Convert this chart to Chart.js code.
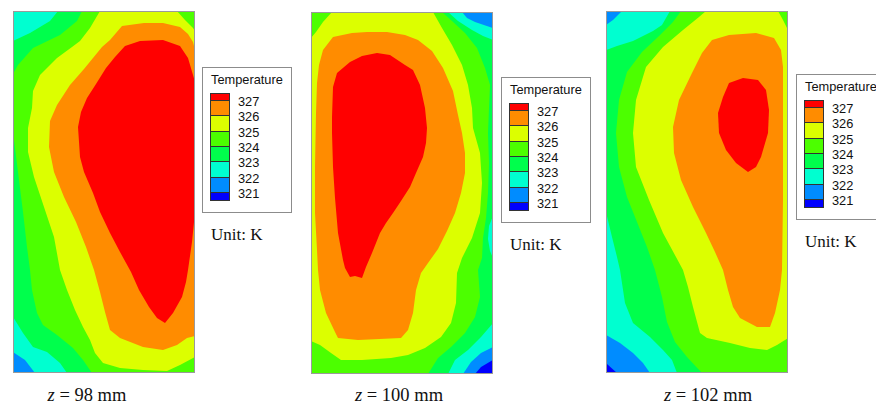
<!DOCTYPE html>
<html>
<head>
<meta charset="utf-8">
<script src="https://cdn.jsdelivr.net/npm/chart.js@4.4.0/dist/chart.umd.min.js"></script>
<style>
  body { margin: 0; background: #fff; width: 876px; height: 404px; overflow: hidden; position: relative;
         font-family: "Liberation Sans", Arial, sans-serif; }
  .panel { position: absolute; border: 1px solid #9a9a9a; width: 180px; height: 360px; }
  .panel canvas { display: block; }
  .legend { position: absolute; width: 88px; height: 144px; border: 1px solid #8c8c8c; background: #fff; }
  .legend .title { position: absolute; left: 8px; top: 5px; font-size: 12.8px; line-height: 14px; color: #111; white-space: nowrap; }
  .swatch { position: absolute; left: 7px; width: 20px; box-sizing: border-box; border: 1px solid #333; }
  .lab { position: absolute; left: 35px; font-size: 12.8px; line-height: 14px; color: #111; }
  .unit { position: absolute; font-family: "Liberation Serif", "Times New Roman", serif; font-size: 17px; line-height: 18px; color: #111; white-space: nowrap; }
  .caption { position: absolute; font-family: "Liberation Serif", "Times New Roman", serif; font-size: 18.5px; line-height: 20px; color: #111; white-space: nowrap; transform: translateX(-50%); }
</style>
</head>
<body>
<script>
// Contour levels (K) shown in the legends
const LEVELS = [321, 322, 323, 324, 325, 326, 327];
// Band colours: below 321, 321-322, ... , above 327
const BAND_COLORS = ["#0000ff", "#008cff", "#00ffd0", "#00ff4c", "#4cff00", "#dcff00", "#ff8c00", "#ff0000"];
// Slice positions (mm)
const SLICES = ["98", "100", "102"];

// Section size in plot units
const X_MAX = 180;
const Y_MAX = 360;
const FULL = [-1, -1, X_MAX + 1, -1, X_MAX + 1, Y_MAX + 1, -1, Y_MAX + 1];

// ---- z = 98 mm : region outlines (x, y pairs, y measured from the top) ----
const z98Spring1 = [-1,-1, 68,-1, 63,9, 46,23, 19,36, 4,53, -1,62];
const z98Spring2 = [-1,120, 4,160, 9,200, 13,235, 16,258, 18,278, 23,301, 29,313, 43,323, 59,336, 69,348, 78,361, -1,361];
const z98Cyan1 = [-1,-1, 44,-1, 36,9, 16,21, 1,28, -1,29];
const z98Cyan2 = [-1,305, 9,321, 19,335, 33,340, 46,351, 53,361, -1,361];
const z98Azure = [-1,340, 11,348, 21,361, -1,361];
const z98Yellow = [86,-1, 163,-1, 171,8, 179,16, 181,19, 181,345, 166,353, 153,359, 129,358, 106,356, 89,351, 81,341,
  76,328, 69,315, 61,298, 53,278, 46,258, 40,225, 30,195, 20,165, 14,140, 14,116, 18,96, 19,79, 26,63, 43,46, 58,35, 66,29, 76,16];
const z98Orange = [88,35, 96,28, 108,14, 130,11, 149,11, 166,15, 174,22, 179,30, 181,38, 181,324, 173,326, 163,333, 149,338,
  129,335, 106,326, 96,318, 91,300, 86,280, 80,258, 72,235, 62,210, 50,185, 40,160, 35,135, 36,109, 43,93, 56,73, 70,57, 79,46];
const z98Red = [101,45, 111,34, 126,29, 149,28, 166,34, 174,46, 179,63, 181,70, 181,200, 178,230, 174,258, 172,270, 168,285,
  159,301, 151,311, 143,306, 135,295, 125,278, 117,260, 106,240, 96,221, 86,200, 79,181, 70,160, 66,145, 64,115, 67,100,
  73,86, 82,72, 92,56];

// ---- z = 100 mm ----
const z100Spring = [130,-1, 181,-1, 181,361, 116,361, 126,345, 139,334, 153,320, 163,304, 168,284, 166,257, 170,245, 171,225,
  174,205, 176,180, 177,150, 176,120, 177,95, 178,72, 173,55, 165,35, 153,20, 140,8];
const z100Cyan1 = [136,-1, 146,8, 160,17, 171,23, 181,27, 181,-1];
const z100Azure1 = [150,-1, 155,5, 163,9, 181,15, 181,-1];
const z100Cyan2 = [181,203, 177,213, 176,226, 178,238, 181,245];
const z100Cyan3 = [181,310, 169,324, 156,337, 143,347, 136,361, 181,361];
const z100Azure2 = [181,334, 169,340, 159,349, 151,361, 181,361];
const z100Blue = [181,347, 169,354, 163,361, 181,361];
const z100Yellow = [20,-1, 121,-1, 130,15, 140,32, 150,52, 156,72, 160,95, 161,115, 168,140, 170,170, 168,200, 160,225,
  150,245, 145,260, 144,290, 139,310, 129,324, 113,335, 96,342, 79,345, 50,347, 29,347, 19,340, 8,332, -1,328, -1,25, 4,19, 11,9];
const z100Orange = [11,37, 21,24, 40,20, 55,19, 75,19, 93,22, 106,27, 120,38, 131,55, 141,78, 146,102, 150,120, 153,140,
  153,160, 149,180, 143,200, 135,218, 126,236, 116,250, 109,260, 104,277, 101,300, 96,317, 89,325, 46,327, 26,325, 23,319,
  14,300, 8,277, 6,257, 5,237, 3,200, 3,154, 4,100, 5,70, 7,52];
const z100Red = [25,60, 38,49, 50,43, 65,40, 78,42, 93,52, 101,57, 108,72, 113,95, 115,115, 114,130, 111,144, 104,160, 98,174,
  89,188, 81,200, 74,210, 68,220, 60,240, 54,254, 50,265, 43,263, 38,264, 33,255, 31,247, 26,220, 23,185, 21,154, 20,120,
  20,104, 21,74];

// ---- z = 102 mm ----
const z102Cyan1 = [-1,-1, 63,-1, 55,13, 46,19, 26,29, 10,34, -1,38];
const z102Azure1 = [-1,-1, 15,-1, 6,8, -1,13];
const z102Cyan2 = [-1,200, 5,225, 10,245, 13,258, 18,291, 26,311, 43,325, 56,338, 65,348, 70,361, -1,361];
const z102Azure2 = [-1,323, 13,331, 26,341, 36,351, 43,361, -1,361];
const z102Blue = [-1,351, 10,361, -1,361];
const z102Green = [74,-1, 181,-1, 181,361, 95,361, 80,345, 68,330, 60,310, 55,285, 48,258, 40,235, 30,210, 20,185, 12,155,
  9,121, 12,88, 20,60, 35,40, 52,24, 66,10];
const z102Yellow = [99,-1, 171,-1, 176,8, 181,18, 181,326, 170,333, 160,338, 143,336, 123,331, 100,326, 93,321, 86,295,
  81,275, 76,258, 69,245, 56,221, 42,188, 29,155, 26,121, 29,88, 39,55, 56,35, 76,18, 92,5];
const z102Orange = [95,41, 105,28, 122,23, 149,21, 167,26, 174,38, 176,55, 176,121, 176,188, 175,258, 173,278, 168,301,
  163,315, 150,315, 133,306, 126,295, 121,278, 116,258, 108,240, 99,221, 86,195, 74,168, 67,141, 66,115, 72,88, 85,61];
const z102Red = [122,71, 136,66, 151,68, 159,78, 162,98, 161,121, 154,145, 149,155, 141,160, 129,151, 119,138, 112,121,
  111,101, 116,85];

// Paint order per slice: [band index, outline]
const z98Layers = [[4, FULL], [3, z98Spring1], [3, z98Spring2], [2, z98Cyan1], [2, z98Cyan2], [1, z98Azure],
  [5, z98Yellow], [6, z98Orange], [7, z98Red]];
const z100Layers = [[4, FULL], [3, z100Spring], [2, z100Cyan1], [1, z100Azure1], [2, z100Cyan2], [2, z100Cyan3],
  [1, z100Azure2], [0, z100Blue], [5, z100Yellow], [6, z100Orange], [7, z100Red]];
const z102Layers = [[3, FULL], [2, z102Cyan1], [1, z102Azure1], [2, z102Cyan2], [1, z102Azure2], [0, z102Blue],
  [4, z102Green], [5, z102Yellow], [6, z102Orange], [7, z102Red]];

// Page layout (pixels)
const PANEL_POS = [[13, 11], [311, 12], [606, 11]];
const LEGEND_POS = [[202, 67], [501, 77], [796, 74]];
const CAPTION_X = [87, 399, 708];

function toPoints(flat) {
  const pts = [];
  for (let i = 0; i < flat.length; i += 2) {
    pts.push({ x: flat[i], y: flat[i + 1] });
  }
  return pts;
}

function addEl(cls, left, top, html) {
  const el = document.createElement("div");
  el.className = cls;
  el.style.left = left + "px";
  el.style.top = top + "px";
  if (html !== undefined) el.innerHTML = html;
  document.body.appendChild(el);
  return el;
}

function drawPanel(layers, pos) {
  const box = addEl("panel", pos[0], pos[1]);
  const canvas = document.createElement("canvas");
  canvas.width = X_MAX;
  canvas.height = Y_MAX;
  box.appendChild(canvas);

  // Chart.js draws the first dataset on top, so reverse the paint order
  const datasets = layers.slice().reverse().map(([band, outline]) => ({
    data: toPoints(outline),
    backgroundColor: BAND_COLORS[band],
    borderWidth: 0,
    pointRadius: 0,
    tension: 0,
    fill: "shape",
  }));

  new Chart(canvas, {
    type: "line",
    data: { datasets },
    options: {
      responsive: false,
      animation: false,
      events: [],
      devicePixelRatio: 1,
      layout: { padding: 0 },
      plugins: { legend: { display: false }, tooltip: { enabled: false } },
      scales: {
        x: { type: "linear", min: 0, max: X_MAX, display: false },
        y: { type: "linear", min: 0, max: Y_MAX, reverse: true, display: false },
      },
    },
  });
}

function drawLegend(pos) {
  const box = addEl("legend", pos[0], pos[1]);
  const title = document.createElement("div");
  title.className = "title";
  title.textContent = "Temperature";
  box.appendChild(title);

  const top = 24.5;
  const full = 15.3;
  const n = BAND_COLORS.length;
  let y = top;
  for (let i = n - 1; i >= 0; i--) {
    const h = (i === n - 1 || i === 0) ? full / 2 : full;
    const sw = document.createElement("div");
    sw.className = "swatch";
    sw.style.top = y + "px";
    sw.style.height = (h + 1) + "px";
    sw.style.background = BAND_COLORS[i];
    box.appendChild(sw);
    y += h;
  }

  LEVELS.slice().reverse().forEach((lv, i) => {
    const lab = document.createElement("div");
    lab.className = "lab";
    lab.style.top = (top + full / 2 + i * full + 2 - 7) + "px";
    lab.textContent = lv;
    box.appendChild(lab);
  });

  addEl("unit", pos[0] + 9, pos[1] + 146 + 13, "Unit: K");
}

[z98Layers, z100Layers, z102Layers].forEach((layers, i) => {
  drawPanel(layers, PANEL_POS[i]);
  drawLegend(LEGEND_POS[i]);
  addEl("caption", CAPTION_X[i], 385, "<i>z</i> = " + SLICES[i] + " mm");
});
</script>
</body>
</html>
